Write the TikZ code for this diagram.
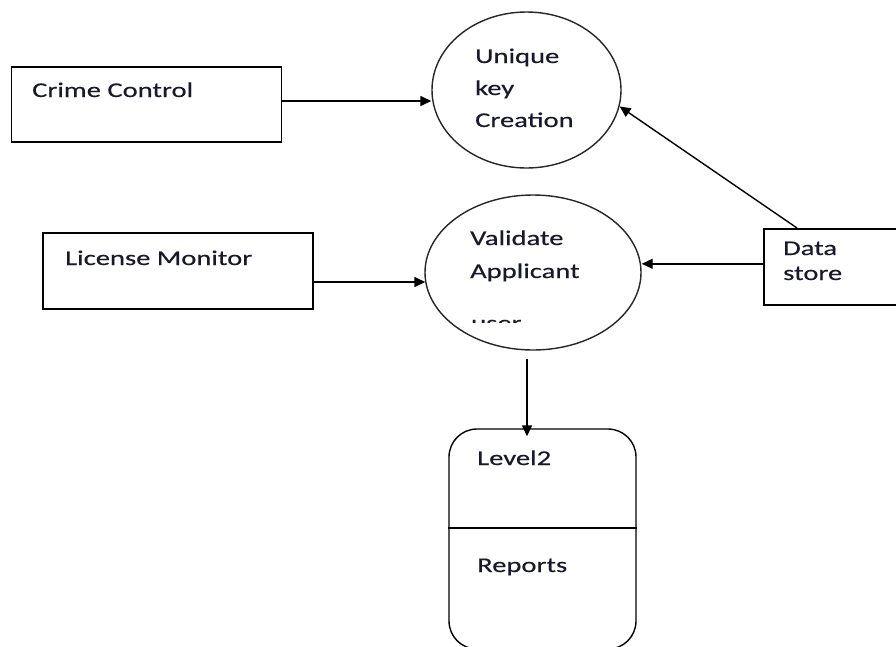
\documentclass[tikz,border=0pt]{standalone}
\usepackage{fontspec}
\setmainfont{Carlito}[FakeStretch=1.36,FakeBold=0.4]
\usetikzlibrary{arrows.meta,shapes.geometric}
\begin{document}
\begin{tikzpicture}[x=1pt,y=-1pt,
  box/.style={draw=black,line width=1.6pt,rectangle,inner sep=0pt},
  proc/.style={draw=black!85,line width=1.4pt,ellipse,inner sep=0pt},
  lbl/.style={anchor=base west,inner sep=0pt,font=\fontsize{21}{25}\selectfont,text={rgb,255:red,25;green,25;blue,45}},
  arr/.style={draw=black,line width=1.4pt,-{Triangle[length=11pt,width=10pt]}}]
\clip (0,0) rectangle (896,646);
\fill[white] (0,0) rectangle (896,646);
% shapes
\node[box,minimum width=270pt,minimum height=75pt] (cc) at (146.5,104.5) {};
\node[box,minimum width=270pt,minimum height=76pt] (lm) at (178,271) {};
\node[box,minimum width=142pt,minimum height=76pt,anchor=north west] (ds) at (763,228) {};
\node[proc,minimum width=189pt,minimum height=156pt] (uk) at (526.5,90) {};
\node[proc,minimum width=216pt,minimum height=155pt] (va) at (533,272.5) {};
\node[draw=black,line width=1.4pt,rounded corners=28pt,minimum width=187pt,minimum height=220pt,inner sep=0pt] (lv) at (542.5,539) {};
\coordinate (divy) at (0,528);
\draw[line width=1.4pt] (lv.west |- divy) -- (lv.east |- divy);
% labels
\node[lbl] (tcc) at (32,97) {Crime Control};
\node[lbl] (tlm) at (65,265) {License Monitor};
\node[lbl] (tuk1) at (475,63) {Unique};
\node[lbl] (tuk2) at (475,95) {key};
\node[lbl] (tuk3) at (475,127) {Creation};
\node[lbl] (tva1) at (470,245) {Validate};
\node[lbl] (tva2) at (470,278) {Applicant};
\begin{scope}
\clip (420,300) rectangle (650,322.5);
\node[lbl] (tva3) at (471,330) {user};
\end{scope}
\node[lbl] (tds1) at (783,255) {Data};
\node[lbl] (tds2) at (783,280) {store};
\node[lbl] (tlv1) at (477,465) {Level2};
\node[lbl] (tlv2) at (477,572) {Reports};
% connectors
\draw[arr] ([yshift=3.5pt]cc.east) -- ([yshift=3.5pt]cc.east -| uk.west);
\draw[arr] ([yshift=-11pt]lm.east) -- ([yshift=-11pt,xshift=1pt]lm.east -| va.west);
\draw[arr] ([yshift=3pt]ds.west) -- ([yshift=3pt]ds.west -| va.east);
\draw[arr] ([xshift=34pt]ds.north west) -- (uk.-10);
\draw[arr] ([xshift=-6pt,yshift=-8pt]va.south) -- ([xshift=-6pt,yshift=-8pt]va.south |- lv.north);
\end{tikzpicture}
\end{document}
